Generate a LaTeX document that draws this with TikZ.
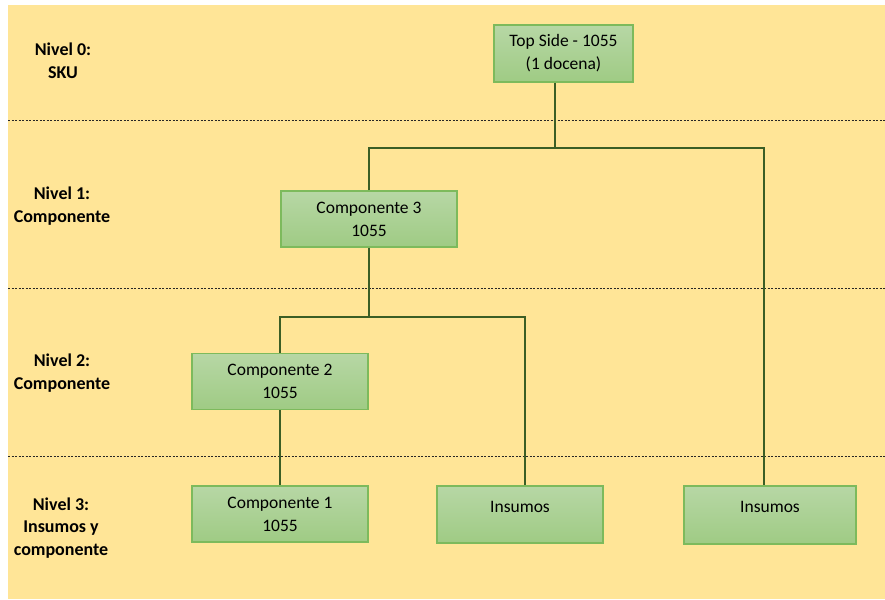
\documentclass[tikz,border=0pt]{standalone}
\usepackage{fontspec}
\setmainfont{Carlito}
\definecolor{bgyellow}{HTML}{FFE597}
\definecolor{boxtop}{HTML}{B7D7A5}
\definecolor{boxbot}{HTML}{9FCB84}
\definecolor{boxedge}{HTML}{7DBA5C}
\definecolor{linkgreen}{HTML}{3B5E25}
\tikzset{
  partbox/.style={draw=boxedge, line width=1.2pt, top color=boxtop, bottom color=boxbot,
    minimum width=#1, minimum height=56pt, inner sep=0pt, align=center,
    font=\fontsize{17.5}{23}\selectfont},
  partbox/.default=176pt,
  link/.style={draw=linkgreen, line width=2pt},
  levelsep/.style={draw=black!85, line width=1pt, dash pattern=on 2pt off 1.5pt},
  levellabel/.style={font=\bfseries\fontsize{18}{22.8}\selectfont, align=center, inner sep=0pt}
}
\begin{document}
\begin{tikzpicture}[x=1pt, y=-1pt]
\useasboundingbox (0,0) rectangle (885,599);
% backdrop
\fill[bgyellow] (8,5) rectangle (885,599);
% level separators
\foreach \yy in {120,288,456} \draw[levelsep] (8,\yy) -- (885,\yy);
% level labels
\node[levellabel] (l0) at (63,61) {Nivel 0:\\SKU};
\node[levellabel] (l1) at (62,206) {Nivel 1:\\Componente};
\node[levellabel] (l2) at (62,373) {Nivel 2:\\Componente};
\node[levellabel] (l3) at (61,528) {Nivel 3:\\Insumos y\\componente};
% junction points of the tree
\coordinate (j0) at (555,148);
\coordinate (j0r) at (764,148);
\coordinate (j1) at (369,317);
\coordinate (j1r) at (525,317);
% parts
\node[partbox=139pt, minimum height=57pt] (top) at (563.5,53.5) {Top Side - 1055\\(1 docena)};
\node[partbox] (c3) at (369,219) {Componente 3\\1055};
\node[partbox] (c2) at (280,381.5) {Componente 2\\1055};
\node[partbox] (c1) at (280,514) {Componente 1\\1055};
\node[partbox=166pt, minimum height=57pt] (ins1) at (520,514.5) {Insumos\\[-14pt]\strut};
\node[partbox=172pt, minimum height=58pt] (ins2) at (770,515) {Insumos\\[-14pt]\strut};
% tree connectors
\path[link] (top.south -| j0) -- (j0);
\path[link] (c3.north) -- (c3.north |- j0) -- (j0r) -- (j0r |- ins2.north);
\path[link] (c3.south) -- (j1);
\path[link] (c2.north) -- (c2.north |- j1) -- (j1r) -- (j1r |- ins1.north);
\path[link] (c2.south) -- (c1.north);
\end{tikzpicture}
\end{document}
